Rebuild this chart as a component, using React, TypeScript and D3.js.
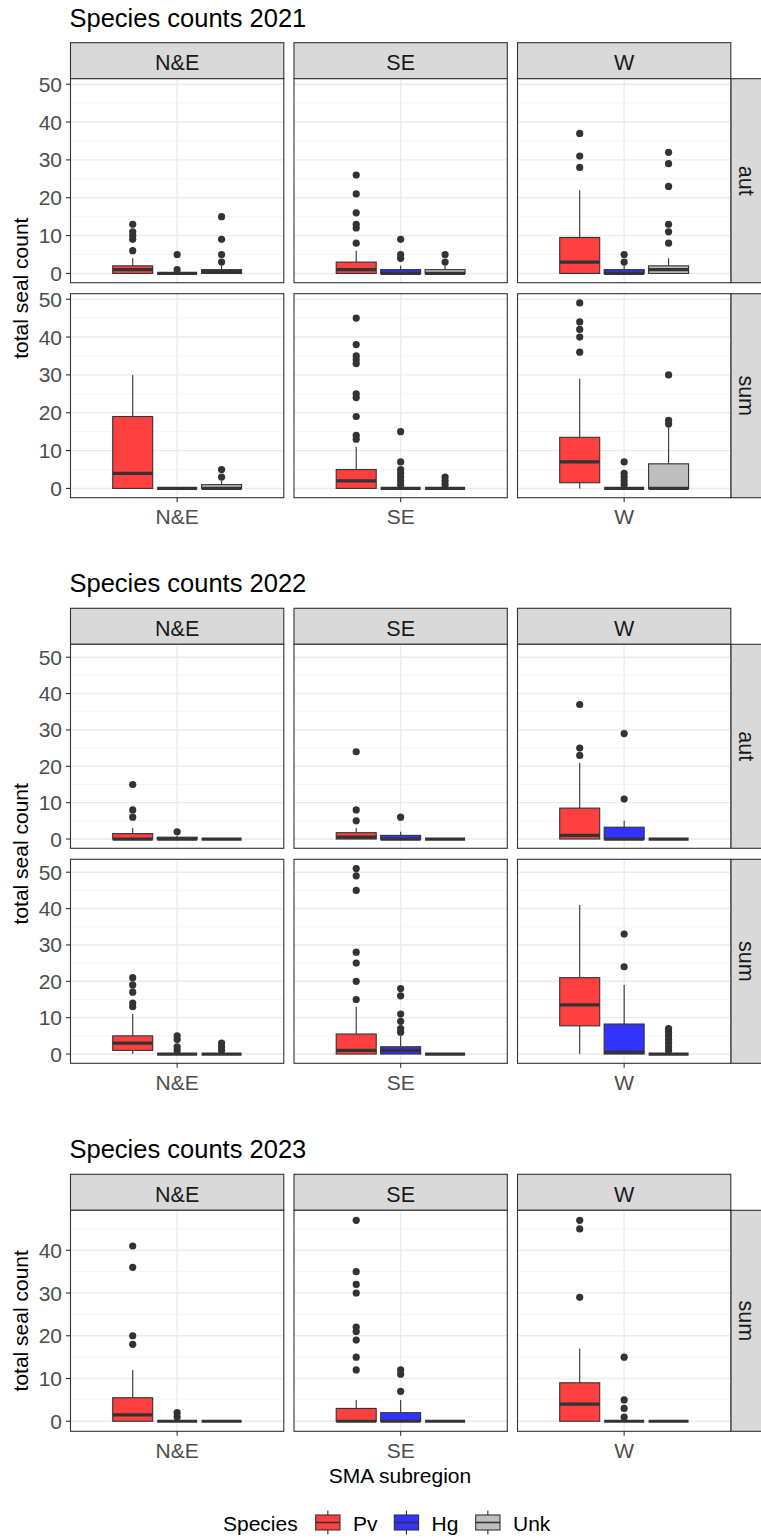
import * as d3 from "d3";

// facet columns, fill groups, colours
const regions = ["N&E", "SE", "W"];
const species = ["Pv", "Hg", "Unk"];
const speciesFill = ["#FF4040", "#3333FF", "#BEBEBE"];

// boxplot stats per (region, species), region-major: [lower whisker, q1, median, q3, upper whisker]
const box2021aut = [
  [0, 0, 1, 2, 4], [0, 0, 0, 0, 0], [0, 0, 0.5, 1, 2],
  [0, 0, 1, 3, 6], [0, 0, 0, 1, 2], [0, 0, 0, 1, 2],
  [0, 0, 3, 9.5, 22], [0, 0, 0, 1, 2], [0, 0, 1, 2, 4],
];
const out2021aut = [
  [6, 9, 10, 11, 13], [1, 5], [3, 5, 9, 15],
  [8, 12, 13, 16, 21, 26], [4, 5, 9], [3, 5],
  [28, 31, 37], [3, 5], [8, 11, 13, 23, 29, 32],
];
const box2021sum = [
  [0, 0, 4, 19, 30], [0, 0, 0, 0, 0], [0, 0, 0, 1, 2],
  [0, 0, 2, 5, 11], [0, 0, 0, 0, 0], [0, 0, 0, 0, 0],
  [0, 1.5, 7, 13.5, 29], [0, 0, 0, 0, 0], [0, 0, 0, 6.5, 16],
];
const out2021sum = [
  [], [], [3, 5],
  [13, 14, 19, 24, 25, 33, 34, 35, 38, 45], [1, 2, 3, 4, 5, 7, 15], [1, 2, 3],
  [36, 40, 42, 44, 49], [1, 2, 3, 4, 7], [17, 18, 30],
];
const box2022aut = [
  [0, 0, 0, 1.5, 3], [0, 0, 0, 0.5, 1], [0, 0, 0, 0, 0],
  [0, 0, 0.5, 1.75, 3], [0, 0, 0, 1, 2], [0, 0, 0, 0, 0],
  [0, 0, 1, 8.5, 21], [0, 0, 0, 3.25, 5], [0, 0, 0, 0, 0],
];
const out2022aut = [
  [6, 8, 15], [2], [],
  [5, 8, 24], [6], [],
  [23, 25, 37], [11, 29], [],
];
const box2022sum = [
  [0, 1, 3, 5, 11], [0, 0, 0, 0, 0], [0, 0, 0, 0, 0],
  [0, 0, 1, 5.5, 13], [0, 0, 1, 2, 5], [0, 0, 0, 0, 0],
  [0, 7.75, 13.5, 21, 41], [0, 0, 0.5, 8.25, 19], [0, 0, 0, 0, 0],
];
const out2022sum = [
  [13, 14, 17, 19, 21], [1, 2, 4, 5], [1, 2, 3],
  [15, 20, 25, 28, 45, 49, 51], [6, 7, 9, 11, 16, 18], [],
  [], [24, 33], [1, 2, 3, 4, 5, 6, 7],
];
const box2023sum = [
  [0, 0, 1.5, 5.5, 12], [0, 0, 0, 0, 0], [0, 0, 0, 0, 0],
  [0, 0, 0, 3, 5], [0, 0, 0, 2, 5], [0, 0, 0, 0, 0],
  [0, 0, 4, 9, 17], [0, 0, 0, 0, 0], [0, 0, 0, 0, 0],
];
const out2023sum = [
  [18, 20, 36, 41], [1, 2], [],
  [12, 15, 19, 21, 22, 30, 32, 35, 47], [7, 11, 12], [],
  [29, 45, 47], [1, 3, 5, 15], [],
];

const sections = [
  { title: "Species counts 2021", seasons: ["aut", "sum"], boxes: [box2021aut, box2021sum], outs: [out2021aut, out2021sum], stripTop: 42.7, rowH: 204 },
  { title: "Species counts 2022", seasons: ["aut", "sum"], boxes: [box2022aut, box2022sum], outs: [out2022aut, out2022sum], stripTop: 608.3, rowH: 204 },
  { title: "Species counts 2023", seasons: ["sum"], boxes: [box2023sum], outs: [out2023sum], stripTop: 1174.3, rowH: 221 },
];

const W = 761;
const H = 1538;
const panelX0 = 70.5;
const panelW = 213.3;
const panelGap = 10.2;
const stripH = 36;
const rowGap = 11;
const ink = "#333333";
const axisGrey = "#4D4D4D";
const font = "'Liberation Sans', Arial, Helvetica, sans-serif";

const Section = ({ sec }) => {
  const maxVal = Math.max(d3.max(sec.boxes.flat(), (b) => b[4]), d3.max(sec.outs.flat(2)));
  const domain = [-0.05 * maxVal, 1.05 * maxVal];
  const panelTop = sec.stripTop + stripH;
  const nRows = sec.seasons.length;
  const bottom = panelTop + nRows * sec.rowH + (nRows - 1) * rowGap;
  const majors = d3.range(0, domain[1] + 1e-9, 10);
  const minors = d3.range(5, domain[1] + 1e-9, 10);
  const rightX = panelX0 + 3 * panelW + 2 * panelGap;

  return (
    <g>
      <text x={69.5} y={sec.stripTop - 16} fontSize={25.5} fill="#000">
        {sec.title}
      </text>
      <text
        transform={`translate(28.3,${(panelTop + bottom) / 2}) rotate(-90)`}
        textAnchor="middle"
        fontSize={21}
        fill="#000"
      >
        total seal count
      </text>
      {regions.map((reg, ci) => {
        const px = panelX0 + ci * (panelW + panelGap);
        return (
          <g key={reg}>
            <rect x={px} y={sec.stripTop} width={panelW} height={stripH} fill="#D9D9D9" stroke={ink} strokeWidth={1.1} />
            <text x={px + panelW / 2} y={sec.stripTop + 27.3} textAnchor="middle" fontSize={21.5} fill="#1A1A1A">
              {reg}
            </text>
          </g>
        );
      })}
      {sec.seasons.map((season, ri) => {
        const top = panelTop + ri * (sec.rowH + rowGap);
        const y = d3.scaleLinear().domain(domain).range([top + sec.rowH, top]);
        const boxes = sec.boxes[ri];
        const outs = sec.outs[ri];
        return (
          <g key={season}>
            {/* right strip */}
            <rect x={rightX} y={top} width={stripH} height={sec.rowH} fill="#D9D9D9" stroke={ink} strokeWidth={1.1} />
            <text
              transform={`translate(738.5,${top + sec.rowH / 2}) rotate(90)`}
              textAnchor="middle"
              fontSize={21.5}
              fill="#1A1A1A"
            >
              {season}
            </text>
            {/* y axis */}
            {majors.map((t) => (
              <g key={t}>
                <line x1={panelX0 - 4.5} x2={panelX0} y1={y(t)} y2={y(t)} stroke={ink} strokeWidth={1.1} />
                <text x={62} y={y(t)} dy="0.36em" textAnchor="end" fontSize={21} fill={axisGrey}>
                  {t}
                </text>
              </g>
            ))}
            {regions.map((reg, ci) => {
              const px = panelX0 + ci * (panelW + panelGap);
              const x = d3.scaleLinear().domain([0.4, 1.6]).range([px, px + panelW]);
              return (
                <g key={reg}>
                  <rect x={px} y={top} width={panelW} height={sec.rowH} fill="#fff" />
                  {minors.map((t) => (
                    <line key={"m" + t} x1={px} x2={px + panelW} y1={y(t)} y2={y(t)} stroke="#F2F2F2" strokeWidth={0.8} />
                  ))}
                  {majors.map((t) => (
                    <line key={"M" + t} x1={px} x2={px + panelW} y1={y(t)} y2={y(t)} stroke="#EBEBEB" strokeWidth={1.4} />
                  ))}
                  <line x1={x(1)} x2={x(1)} y1={top} y2={top + sec.rowH} stroke="#EBEBEB" strokeWidth={1.4} />
                  {species.map((sp, si) => {
                    const idx = ci * 3 + si;
                    const [lo, q1, med, q3, hi] = boxes[idx];
                    const cx = 1 + (si - 1) * 0.25;
                    const half = (0.25 * 0.9) / 2;
                    const x0 = x(cx - half);
                    const x1 = x(cx + half);
                    return (
                      <g key={sp}>
                        <line x1={x(cx)} x2={x(cx)} y1={y(q3)} y2={y(hi)} stroke={ink} strokeWidth={1.1} />
                        <line x1={x(cx)} x2={x(cx)} y1={y(q1)} y2={y(lo)} stroke={ink} strokeWidth={1.1} />
                        <rect x={x0} y={y(q3)} width={x1 - x0} height={y(q1) - y(q3)} fill={speciesFill[si]} stroke={ink} strokeWidth={1.1} />
                        <line x1={x0} x2={x1} y1={y(med)} y2={y(med)} stroke={ink} strokeWidth={3.2} />
                        {outs[idx].map((v, k) => (
                          <circle key={k} cx={x(cx)} cy={y(v)} r={3.6} fill={ink} />
                        ))}
                      </g>
                    );
                  })}
                  <rect x={px} y={top} width={panelW} height={sec.rowH} fill="none" stroke={ink} strokeWidth={1.1} />
                  {ri === nRows - 1 && (
                    <g>
                      <line x1={x(1)} x2={x(1)} y1={top + sec.rowH} y2={top + sec.rowH + 4.5} stroke={ink} strokeWidth={1.1} />
                      <text x={x(1)} y={top + sec.rowH + 26.3} textAnchor="middle" fontSize={21} fill={axisGrey}>
                        {reg}
                      </text>
                    </g>
                  )}
                </g>
              );
            })}
          </g>
        );
      })}
    </g>
  );
};

const legendKeyX = [315.7, 394.3, 475.7];

export default function App() {
  return (
    <svg
      width={W}
      height={H}
      viewBox={`0 0 ${W} ${H}`}
      style={{ position: "absolute", left: 0, top: 0, display: "block" }}
      fontFamily={font}
    >
      <rect width={W} height={H} fill="#fff" />
      {sections.map((s) => (
        <Section key={s.title} sec={s} />
      ))}
      <text x={400} y={1483.3} textAnchor="middle" fontSize={21} fill="#000">
        SMA subregion
      </text>
      <g>
        <text x={223} y={1531} fontSize={21} fill="#000">
          Species
        </text>
        {species.map((sp, i) => {
          const kx = legendKeyX[i];
          const kw = 24.3;
          return (
            <g key={sp}>
              <line x1={kx + kw / 2} x2={kx + kw / 2} y1={1510.5} y2={1534.5} stroke={ink} strokeWidth={1.1} />
              <rect x={kx} y={1515} width={kw} height={15} fill={speciesFill[i]} stroke={ink} strokeWidth={1.1} />
              <line x1={kx} x2={kx + kw} y1={1522.5} y2={1522.5} stroke={ink} strokeWidth={1.6} />
              <text x={kx + 37.3} y={1531} fontSize={21} fill="#000">
                {sp}
              </text>
            </g>
          );
        })}
      </g>
    </svg>
  );
}
